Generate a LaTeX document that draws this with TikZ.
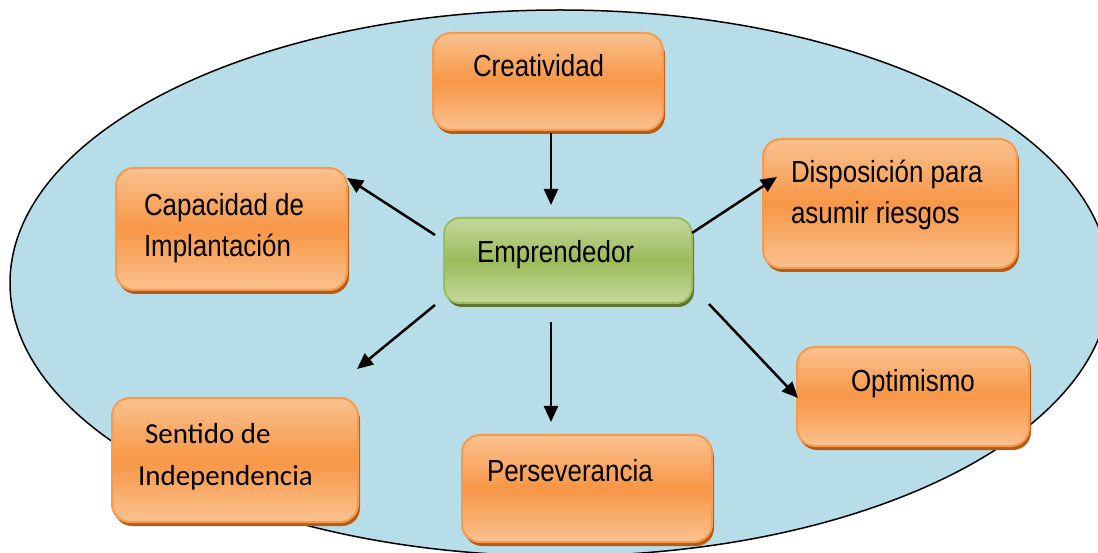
\documentclass[tikz,border=0pt]{standalone}
\usepackage{fontspec}
\setmainfont[FakeStretch=0.85]{Liberation Sans}
\newfontfamily\calfont{Carlito}
\usetikzlibrary{arrows.meta,shadows,calc}
\definecolor{skyfill}{HTML}{B7DDE8}
\definecolor{orMid}{HTML}{F79646}
\definecolor{orLight}{HTML}{FAC18F}
\definecolor{orEdge}{HTML}{F79A4E}
\definecolor{orShadow}{HTML}{B75C12}
\definecolor{grMid}{HTML}{9BBB59}
\definecolor{grLight}{HTML}{C5D89E}
\definecolor{grEdge}{HTML}{9DBD5C}
\definecolor{grShadow}{HTML}{5E7530}
\tikzset{
  obox/.style={rectangle, rounded corners=18pt, draw=orEdge, line width=2pt, outer sep=0pt, inner sep=0pt,
    top color=orLight, bottom color=orLight, middle color=orMid,
    drop shadow={shadow xshift=2pt, shadow yshift=-4pt, fill=orShadow, opacity=1}},
  gbox/.style={rectangle, rounded corners=16pt, draw=grEdge, line width=2pt, outer sep=0pt, inner sep=0pt,
    top color=grLight, bottom color=grLight, middle color=grMid,
    drop shadow={shadow xshift=2pt, shadow yshift=-4pt, fill=grShadow, opacity=1}},
  lbl/.style={inner sep=0pt, outer sep=0pt, align=left, anchor=base west,
    font=\fontsize{30.5}{41}\selectfont},
  clbl/.style={inner sep=0pt, outer sep=0pt, align=left, anchor=base west,
    font=\calfont\fontsize{29}{42}\selectfont},
  arr/.style={line width=2.5pt, -{Triangle[length=16pt,width=14pt]}}
}
\begin{document}
\begin{tikzpicture}[x=1pt,y=1pt]
\useasboundingbox (0,0) rectangle (1098,552);
\fill[white] (0,0) rectangle (1098,552);
\draw[fill=skyfill, line width=1.5pt] (560,269) ellipse [x radius=550, y radius=273];

\node[obox, minimum width=230pt, minimum height=97pt] (cre) at (548,470.5) {};
\node[gbox, minimum width=248pt, minimum height=85pt] (emp) at (568,291.5) {};
\node[obox, minimum width=231pt, minimum height=122pt] (cap) at (231.5,323) {};
\node[obox, minimum width=246pt, minimum height=124pt] (sen) at (235,92) {};
\node[obox, minimum width=254pt, minimum height=129pt] (dis) at (890,348.5) {};
\node[obox, minimum width=232pt, minimum height=99pt] (opt) at (913,155.5) {};
\node[obox, minimum width=250pt, minimum height=107pt] (per) at (587,63.5) {};

\node[lbl] (creT) at (473,475) {Creatividad};
\node[lbl] (empT) at (477,289) {Emprendedor};
\node[lbl] (capT) at (144,295) {Capacidad de\\Implantación};
\node[clbl] (senT) at (138,67) {\hspace*{7pt}Sentido de\\Independencia};
\node[lbl] (disT) at (791,328) {Disposición para\\asumir riesgos};
\node[lbl] (optT) at (851,160) {Optimismo};
\node[lbl] (perT) at (487,71) {Perseverancia};

\draw[arr] ([shift={(3,-3)}]cre.south) -- ([shift={(-17,13)}]emp.north);
\draw[arr] ([shift={(-9,25.5)}]emp.west) -- ([shift={(0,-10)}]cap.north east);
\draw[arr] ([shift={(0,27.5)}]emp.east) -- ([shift={(14,26.5)}]dis.west);
\draw[arr] ([shift={(-9,-2)}]emp.south west) -- ([shift={(-1,29)}]sen.north east);
\draw[arr] ([shift={(-17,-19)}]emp.south) -- ([shift={(-36,13)}]per.north);
\draw[arr] ([shift={(17,-1)}]emp.south east) -- ([shift={(1,-1.5)}]opt.west);
\end{tikzpicture}
\end{document}
